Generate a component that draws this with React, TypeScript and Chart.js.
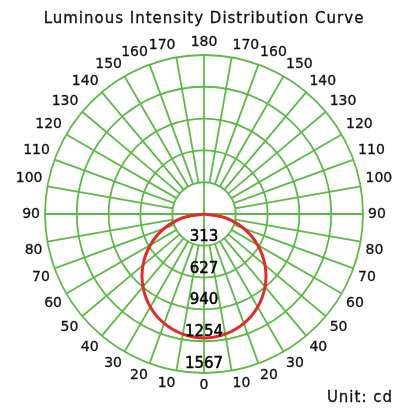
import React, { useEffect, useRef } from "react";
import { Chart, registerables } from "chart.js";

Chart.register(...registerables);

// Angle labels, clockwise from the bottom (0°) through the left side to the top (180°) and down the right side
const angleLabels = [
  "0", "10", "20", "30", "40", "50", "60", "70", "80", "90",
  "100", "110", "120", "130", "140", "150", "160", "170", "180",
  "170", "160", "150", "140", "130", "120", "110", "100", "90",
  "80", "70", "60", "50", "40", "30", "20", "10",
];

// Ring (tick) values in cd
const ringValues = [313, 627, 940, 1254, 1567];

// Luminous intensity (cd) at each angle label above
const intensity = [
  1222, 1203, 1148, 1058, 936, 785, 611, 418, 212, 0,
  0, 0, 0, 0, 0, 0, 0, 0, 0,
  0, 0, 0, 0, 0, 0, 0, 0, 0,
  212, 418, 611, 785, 936, 1058, 1148, 1203,
];

const titleText = "Luminous Intensity Distribution Curve";
const unitText = "Unit: cd";

const GREEN = "#5cbb47";
const RED = "#e5292b";
const FONT = "'DejaVu Sans', Verdana, sans-serif";

function boldText(ctx: CanvasRenderingContext2D, text: string, x: number, y: number, w: number) {
  ctx.fillText(text, x, y);
  ctx.lineWidth = w;
  ctx.strokeText(text, x, y);
}

export default function App() {
  const ref = useRef<HTMLCanvasElement | null>(null);

  useEffect(() => {
    const canvas = ref.current;
    if (!canvas) return;

    const overlay = {
      id: "polarOverlay",
      beforeDatasetsDraw(chart: any) {
        const scale = chart.scales.r;
        const ctx = chart.ctx;
        const n = chart.data.labels.length;
        const innerVal = ringValues[0];
        const outerVal = ringValues[ringValues.length - 1];
        ctx.save();
        ctx.strokeStyle = GREEN;
        ctx.lineWidth = 1.8;
        for (let i = 0; i < n; i++) {
          const axis = i % 9 === 0;
          const a = axis ? scale.getPointPositionForValue(i, 0) : scale.getPointPositionForValue(i, innerVal);
          const b = scale.getPointPositionForValue(i, outerVal);
          ctx.beginPath();
          ctx.moveTo(a.x, a.y);
          ctx.lineTo(b.x, b.y);
          ctx.stroke();
        }
        ctx.restore();
      },
      afterDatasetsDraw(chart: any) {
        const scale = chart.scales.r;
        const ctx = chart.ctx;
        const labels: string[] = chart.data.labels;
        const n = labels.length;
        const outerVal = ringValues[ringValues.length - 1];
        const R = scale.getDistanceFromCenterForValue(outerVal);
        ctx.save();
        // angle labels
        ctx.fillStyle = "#111";
        ctx.strokeStyle = "#111";
        ctx.font = `14px ${FONT}`;
        ctx.textBaseline = "middle";
        const h = 15;
        for (let i = 0; i < n; i++) {
          const p = scale.getPointPosition(i, R + 5);
          const deg = (180 + i * (360 / n)) % 360;
          let align: CanvasTextAlign = "center";
          if (deg === 0 || deg === 180) align = "center";
          else if (deg < 180) align = "left";
          else align = "right";
          let y = p.y;
          if (deg === 90 || deg === 270) y = p.y;
          else if (deg > 270 || deg < 90) y = p.y - h / 2;
          else y = p.y + h / 2;
          ctx.textAlign = align;
          boldText(ctx, labels[i], p.x, y, 0.3);
        }
        // ring value labels along the 0° axis
        ctx.fillStyle = "#000";
        ctx.strokeStyle = "#000";
        ctx.font = `15px ${FONT}`;
        ctx.textAlign = "center";
        ringValues.forEach((v) => {
          const p = scale.getPointPositionForValue(0, v);
          boldText(ctx, String(v), p.x, p.y - 9, 0.5);
        });
        // title
        ctx.fillStyle = "#111";
        ctx.strokeStyle = "#111";
        ctx.font = `15px ${FONT}`;
        (ctx as any).letterSpacing = "1px";
        ctx.textAlign = "center";
        boldText(ctx, titleText, 204, 19, 0.3);
        // unit
        ctx.textAlign = "right";
        boldText(ctx, unitText, 393, 398, 0.3);
        ctx.restore();
      },
    };

    const chart = new Chart(canvas, {
      type: "radar",
      data: {
        labels: angleLabels,
        datasets: [
          {
            data: intensity,
            borderColor: RED,
            borderWidth: 3,
            backgroundColor: "transparent",
            fill: false,
            pointRadius: 0,
            pointHoverRadius: 0,
            tension: 0.33,
          },
        ],
      },
      options: {
        responsive: false,
        animation: false,
        events: [],
        layout: { padding: { left: 45, right: 33, top: 55, bottom: 35 } },
        plugins: {
          legend: { display: false },
          title: { display: false },
          tooltip: { enabled: false },
        },
        scales: {
          r: {
            min: 0,
            max: ringValues[ringValues.length - 1],
            startAngle: 180,
            afterBuildTicks: (scale: any) => {
              scale.ticks = [0, ...ringValues].map((v) => ({ value: v }));
            },
            ticks: { display: false },
            grid: { circular: true, color: GREEN, lineWidth: 1.8 },
            angleLines: { display: false },
            pointLabels: { display: false },
          },
        },
      },
      plugins: [overlay],
    });

    return () => chart.destroy();
  }, []);

  return (
    <div style={{ position: "absolute", left: 0, top: 0, width: 396, height: 408, background: "#fff" }}>
      <canvas ref={ref} width={396} height={408} style={{ display: "block" }} />
    </div>
  );
}
